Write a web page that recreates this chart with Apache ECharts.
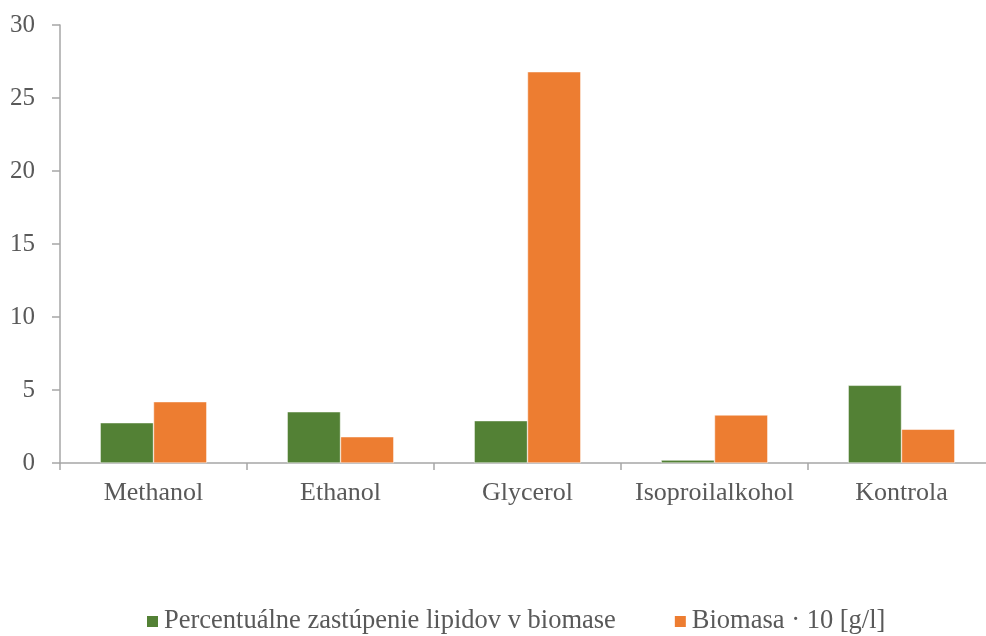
<!DOCTYPE html>
<html><head><meta charset="utf-8">
<script src="https://cdn.jsdelivr.net/npm/echarts@6/dist/echarts.min.js"></script>
<style>html,body{margin:0;padding:0;background:#fff;overflow:hidden}#c{width:1000px;height:636px}</style>
</head><body><div id="c"></div>
<script>
const categories = ["Methanol", "Ethanol", "Glycerol", "Isoproilalkohol", "Kontrola"];
const lipidy = [2.76, 3.51, 2.9, 0.2, 5.32];
const biomasa = [4.2, 1.8, 26.8, 3.29, 2.31];
const seriesNames = ["Percentuálne zastúpenie lipidov v biomase", "Biomasa · 10 [g/l]"];

const font = "Liberation Serif";
const chart = echarts.init(document.getElementById('c'));
chart.setOption({
  animation: false,
  textStyle: {fontFamily: font},
  grid: {left: 60, right: 5, top: 25, height: 438, containLabel: false},
  legend: {
    top: 608, left: 145, padding: 0, itemWidth: 13, itemHeight: 13, itemGap: 57,
    icon: 'rect',
    textStyle: {fontFamily: font, fontSize: 26.5, color: '#595959'},
    data: seriesNames
  },
  xAxis: {
    type: 'category', data: categories,
    axisLine: {lineStyle: {color: '#a6a6a6', width: 1.5}},
    axisTick: {show: true, length: 7, lineStyle: {color: '#a6a6a6', width: 1.5}},
    axisLabel: {fontFamily: font, fontSize: 26, color: '#595959', margin: 17, interval: 0}
  },
  yAxis: {
    type: 'value', min: 0, max: 30, interval: 5,
    splitLine: {show: false},
    axisLine: {show: true, lineStyle: {color: '#a6a6a6', width: 1.5}},
    axisTick: {show: true, length: 8, lineStyle: {color: '#a6a6a6', width: 1.5}},
    axisLabel: {fontFamily: font, fontSize: 25, color: '#595959', margin: 25}
  },
  series: [
    {name: seriesNames[0], type: 'bar', data: lipidy, barGap: '0%', barCategoryGap: '43%',
     itemStyle: {color: '#538135', borderColor: '#ffffff', borderWidth: 0.5}},
    {name: seriesNames[1], type: 'bar', data: biomasa,
     itemStyle: {color: '#ed7d31', borderColor: '#ffffff', borderWidth: 0.5}}
  ]
});
</script></body></html>
